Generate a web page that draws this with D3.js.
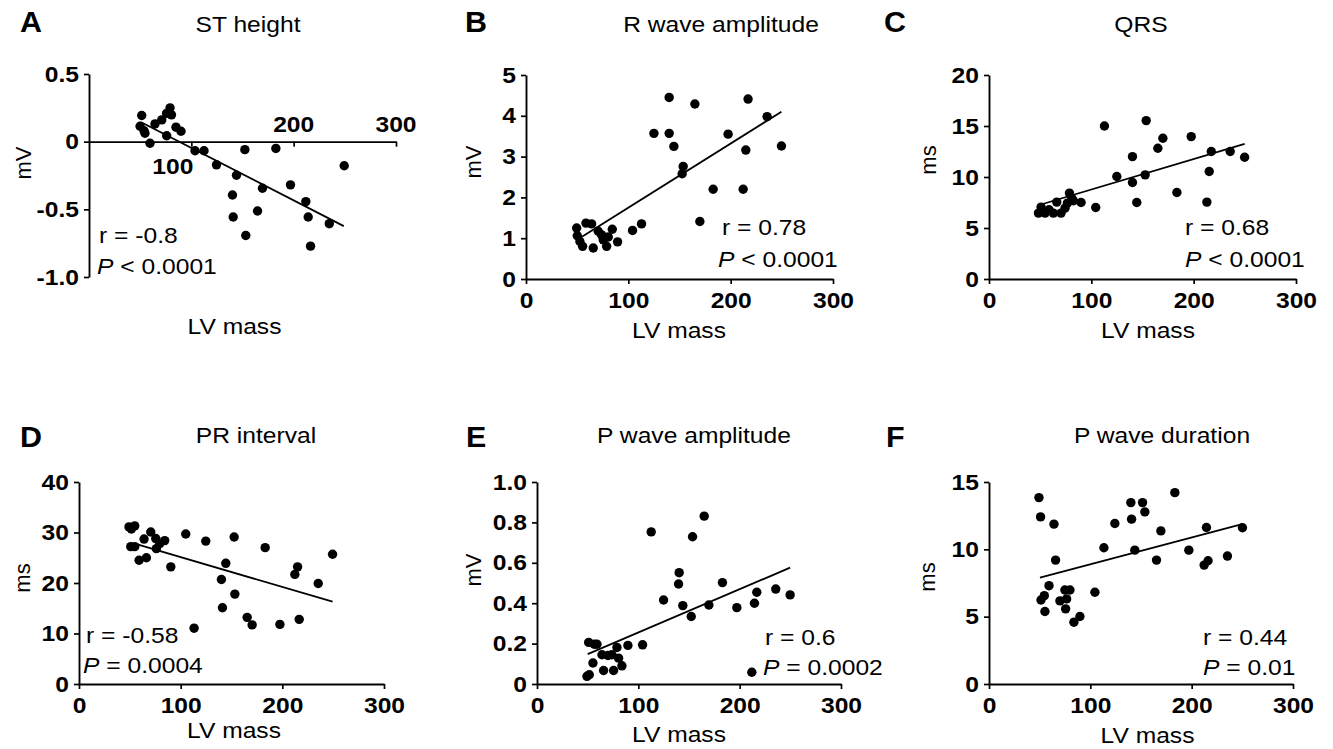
<!DOCTYPE html>
<html>
<head>
<meta charset="utf-8">
<script src="https://cdn.jsdelivr.net/npm/d3@7"></script>
<style>
  body { margin: 0; background: #fff; }
  text { font-family: "Liberation Sans", Arial, Helvetica, sans-serif; fill: #000; }
</style>
</head>
<body>
<div id="fig"></div>
<script>
const massA = [51.5, 49.9, 53.8, 54.7, 59.6, 64.5, 71.1, 75.8, 79.2, 80.6, 75.9, 85, 89.9, 103.6, 112.4,
  124.6, 144.1, 152.3, 140.2, 140.9, 153.2, 164.7, 169.5, 182.6, 196.9, 211.9, 214.2, 216.5, 234.8, 249.4];
const stHeight = [0.193, 0.114, 0.081, 0.062, -0.012, 0.131, 0.161, 0.209, 0.25, 0.198, 0.044, 0.107, 0.077, -0.067, -0.067,
  -0.171, -0.248, -0.059, -0.394, -0.557, -0.693, -0.512, -0.344, -0.05, -0.319, -0.443, -0.557, -0.772, -0.606, -0.178];
const fitA = [[51, 0.144], [249, -0.624]];

const massB = [49.5, 50.1, 52.7, 55.3, 58.6, 64.1, 65.7, 70.6, 73.9, 75.5, 78.8, 80.4, 84.3, 89.5, 104.1, 112.9,
  125, 139.9, 139.9, 144.5, 153.6, 152.6, 165, 169.9, 182.9, 197.5, 212.2, 214.8, 217, 235.6, 249.6];
const rWave = [1.25, 1.06, 0.92, 0.8, 1.37, 1.35, 0.76, 1.17, 1.08, 0.96, 0.8, 1.03, 1.22, 0.91, 1.19, 1.35,
  3.57, 4.45, 3.57, 3.25, 2.76, 2.58, 4.29, 1.41, 2.2, 3.55, 2.2, 3.16, 4.41, 3.98, 3.26];
const fitB = [[54.3, 1.03], [249.6, 4.1]];

const massC = [48.3, 50.9, 54.8, 58.7, 62.9, 66.2, 70.4, 74.3, 76.6, 78.6, 80.9, 82.5, 90, 104.3, 112.8,
  124.9, 140.2, 140.2, 144.4, 153.6, 152.6, 165, 169.9, 183.6, 197.6, 212.9, 215.2, 217.2, 235.7, 249.8];
const qrs = [6.46, 7.05, 6.46, 6.79, 6.46, 7.54, 6.46, 6.95, 7.44, 8.42, 7.93, 7.67, 7.5, 7.01, 15.0,
  10.05, 12.0, 9.46, 7.5, 15.53, 10.21, 12.82, 13.8, 8.48, 13.96, 7.54, 10.54, 12.5, 12.5, 11.94];
const fitC = [[50, 7.28], [249.8, 13.25]];

const massD = [49.2, 51.5, 54.8, 50.9, 54.8, 59.1, 64, 66.3, 70.6, 75.5, 76.1, 79.4, 84.3, 90.3, 105, 113.2,
  124.7, 140.1, 141.1, 144.4, 152.6, 153.3, 165.4, 170.3, 183.1, 197.6, 212.3, 215, 216.6, 235.3, 249.4];
const prInterval = [31.1, 30.7, 31.3, 27.2, 27.2, 24.5, 28.7, 25.0, 30.1, 28.8, 26.8, 27.8, 28.4, 23.2, 29.7, 11.05,
  28.3, 20.7, 15.1, 23.9, 29.1, 17.8, 13.2, 11.7, 27.0, 11.8, 21.7, 23.2, 12.8, 19.9, 25.7];
const fitD = [[54, 27.84], [249.4, 16.3]];

const massE = [49.3, 51.6, 51, 55.2, 56.5, 59.2, 64.1, 65.7, 70, 73.9, 75.6, 78.9, 80.5, 83.8, 89.7, 104.2,
  112.7, 124.9, 139.7, 140.3, 143.9, 152.2, 153.5, 165, 169.6, 183, 197.2, 212, 214.6, 216.9, 235.6, 249.8];
const pAmp = [0.038, 0.046, 0.206, 0.104, 0.197, 0.197, 0.145, 0.067, 0.141, 0.145, 0.067, 0.181, 0.128, 0.09, 0.191, 0.194,
  0.753, 0.416, 0.495, 0.551, 0.388, 0.334, 0.729, 0.831, 0.391, 0.502, 0.378, 0.058, 0.4, 0.454, 0.47, 0.441];
const fitE = [[50, 0.148], [249.8, 0.576]];

const massF = [49.3, 50.9, 51.3, 54.6, 55.2, 59.2, 64.1, 65.7, 70, 74.9, 76.6, 75.6, 79.9, 83.8, 89.7, 104.5,
  113.4, 124.2, 140, 140.7, 143.9, 151.5, 153.8, 165.3, 169.6, 183.4, 197.2, 212.3, 214.6, 216.2, 235.3, 250.1];
const pDur = [13.84, 12.41, 6.24, 6.56, 5.38, 7.3, 11.87, 9.2, 6.17, 6.98, 6.32, 5.58, 6.98, 4.59, 5.01, 6.81,
  10.12, 11.92, 13.47, 12.24, 9.94, 13.47, 12.78, 9.2, 11.37, 14.21, 9.94, 8.83, 11.62, 9.15, 9.5, 11.6];
const fitF = [[50.3, 7.9], [249.8, 11.87]];

const xTicks = [0, 100, 200, 300];

const W = 1333, H = 749;
const SX = 1.12; // the source figure is a little wider than tall

const svg = d3.select('#fig').append('svg').attr('width', W).attr('height', H);

const addText = (g, x, y, str, o = {}) => g.append('text')
  .attr('transform', `translate(${x},${y}) scale(${o.sx || SX},1)`)
  .attr('text-anchor', o.anchor || 'start')
  .attr('font-size', o.size || 22)
  .attr('font-weight', o.weight || 'normal')
  .text(str);

const panels = [
  { letter: 'A', lx: 20, ly: 32, title: 'ST height', tx: 248, ty: 32, unit: 'mV', ux: 31, uy: 163,
    xl: 89, xr: 396, yb: 277, yt: 74, yDomain: [-1, 0.5], yTicks: [-1, -0.5, 0, 0.5],
    yFmt: (d) => (d === -1 ? '-1.0' : String(d)), mx: 234.5, my: 334,
    xs: massA, ys: stHeight, fit: fitA, r: 'r = -0.8', p: ['P', ' < 0.0001'],
    sx1: 99, sy1: 243, sx2: 97, sy2: 274, floating: true },
  { letter: 'B', lx: 465, ly: 32, title: 'R wave amplitude', tx: 721, ty: 32, unit: 'mV', ux: 481, uy: 162,
    xl: 526, xr: 833, yb: 279, yt: 75, yDomain: [0, 5], yTicks: [0, 1, 2, 3, 4, 5],
    yFmt: d3.format('d'), mx: 679, my: 338,
    xs: massB, ys: rWave, fit: fitB, r: 'r = 0.78', p: ['P', ' < 0.0001'],
    sx1: 722, sy1: 235, sx2: 718, sy2: 267 },
  { letter: 'C', lx: 884, ly: 32, title: 'QRS', tx: 1141, ty: 32, unit: 'ms', ux: 936, uy: 160,
    xl: 989, xr: 1296, yb: 279, yt: 75, yDomain: [0, 20], yTicks: [0, 5, 10, 15, 20],
    yFmt: d3.format('d'), mx: 1148, my: 338,
    xs: massC, ys: qrs, fit: fitC, r: 'r = 0.68', p: ['P', ' < 0.0001'],
    sx1: 1185, sy1: 235, sx2: 1185, sy2: 267 },
  { letter: 'D', lx: 20, ly: 447, title: 'PR interval', tx: 256, ty: 443, unit: 'ms', ux: 30, uy: 578,
    xl: 79, xr: 384, yb: 684, yt: 482, yDomain: [0, 40], yTicks: [0, 10, 20, 30, 40],
    yFmt: d3.format('d'), mx: 234, my: 738,
    xs: massD, ys: prInterval, fit: fitD, r: 'r = -0.58', p: ['P', ' = 0.0004'],
    sx1: 86, sy1: 643, sx2: 83, sy2: 673 },
  { letter: 'E', lx: 466, ly: 447, title: 'P wave amplitude', tx: 694, ty: 443, unit: 'mV', ux: 481, uy: 570,
    xl: 537, xr: 841, yb: 684, yt: 482, yDomain: [0, 1], yTicks: [0, 0.2, 0.4, 0.6, 0.8, 1],
    yFmt: (d) => (d === 0 ? '0' : d3.format('.1f')(d)), mx: 679, my: 742,
    xs: massE, ys: pAmp, fit: fitE, r: 'r = 0.6', p: ['P', ' = 0.0002'],
    sx1: 765, sy1: 645, sx2: 763, sy2: 675 },
  { letter: 'F', lx: 886, ly: 447, title: 'P wave duration', tx: 1162, ty: 443, unit: 'ms', ux: 935, uy: 577,
    xl: 989, xr: 1293, yb: 684, yt: 482, yDomain: [0, 15], yTicks: [0, 5, 10, 15],
    yFmt: d3.format('d'), mx: 1147.5, my: 743,
    xs: massF, ys: pDur, fit: fitF, r: 'r = 0.44', p: ['P', ' = 0.01'],
    sx1: 1203, sy1: 645, sx2: 1203, sy2: 675 },
];

const drawPanel = (p) => {
  const g = svg.append('g');
  const x = d3.scaleLinear().domain([0, 300]).range([p.xl, p.xr]);
  const y = d3.scaleLinear().domain(p.yDomain).range([p.yb, p.yt]);

  const styleAxis = (ax) => {
    ax.attr('font-family', null).attr('font-size', null);
    ax.selectAll('path.domain').attr('stroke', '#000').attr('stroke-width', 1.9);
    ax.selectAll('.tick line').attr('stroke', '#000').attr('stroke-width', 1.7);
    ax.selectAll('.tick text')
      .attr('font-size', 22).attr('font-weight', 'bold')
      .attr('transform', `scale(${SX},1)`);
  };

  const gy = g.append('g').attr('transform', `translate(${p.xl},0)`)
    .call(d3.axisLeft(y).tickValues(p.yTicks).tickFormat(p.yFmt)
      .tickSize(5).tickSizeOuter(0).tickPadding(4));
  styleAxis(gy);

  const gx = g.append('g').attr('transform', `translate(0,${y(0)})`)
    .call(d3.axisBottom(x).tickValues(p.floating ? [100, 200, 300] : xTicks)
      .tickFormat(p.floating ? '' : d3.format('d'))
      .tickSize(5).tickSizeOuter(0).tickPadding(8));
  styleAxis(gx);

  if (p.floating) {
    // x axis crosses at y = 0, labels placed around it
    addText(g, x(100) + 2, y(0) + 32, '100', { anchor: 'end', weight: 'bold' });
    addText(g, x(200), y(0) - 10, '200', { anchor: 'middle', weight: 'bold' });
    addText(g, x(300), y(0) - 10, '300', { anchor: 'middle', weight: 'bold' });
  }

  g.append('path')
    .datum(p.fit)
    .attr('d', d3.line().x((d) => x(d[0])).y((d) => y(d[1])))
    .attr('fill', 'none').attr('stroke', '#000').attr('stroke-width', 1.8);

  g.selectAll('circle.pt')
    .data(p.xs.map((v, i) => [v, p.ys[i]]))
    .join('circle')
    .attr('class', 'pt')
    .attr('cx', (d) => x(d[0]))
    .attr('cy', (d) => y(d[1]))
    .attr('r', 4.7)
    .attr('fill', '#000');

  addText(g, p.lx, p.ly, p.letter, { size: 29, weight: 'bold', sx: 1.05 });
  addText(g, p.tx, p.ty, p.title, { anchor: 'middle' });
  addText(g, p.mx, p.my, 'LV mass', { anchor: 'middle' });

  g.append('text')
    .attr('transform', `translate(${p.ux},${p.uy}) rotate(-90)`)
    .attr('text-anchor', 'middle')
    .attr('font-size', 22)
    .text(p.unit);

  addText(g, p.sx1, p.sy1, p.r);
  const pt = addText(g, p.sx2, p.sy2, '');
  pt.append('tspan').attr('font-style', 'italic').text(p.p[0]);
  pt.append('tspan').attr('xml:space', 'preserve').text(p.p[1]);
};

panels.forEach(drawPanel);
</script>
</body>
</html>
